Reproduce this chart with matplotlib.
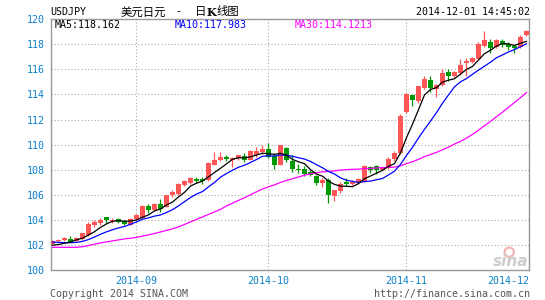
import matplotlib
matplotlib.use("Agg")
import matplotlib.pyplot as plt
import numpy as np
import pandas as pd

# daily candles USDJPY, 2014-08-12 .. 2014-12-01 (weekdays)
opens = [102.13, 102.30, 102.38, 102.49, 102.30, 102.49, 102.78, 103.63, 103.79, 104.24, 103.95, 104.08, 103.92, 103.60,
         104.05, 104.20, 105.10, 104.80, 105.27, 105.06, 105.96, 106.10, 106.80, 106.96, 107.28, 107.23, 107.17, 108.42,
         108.74, 109.05, 108.79, 108.90, 109.10, 108.79, 109.21, 109.42,
         109.68, 109.10, 108.42, 109.74, 108.68, 108.10, 108.10, 107.79, 107.48, 106.96, 107.22, 105.92, 106.29, 107.00,
         106.86, 106.96, 107.12, 108.26, 108.30, 108.00, 108.16, 108.83, 109.30,
         112.62, 113.97, 113.50, 114.50, 115.17, 114.44, 114.75, 115.79, 115.47, 115.73, 116.48, 116.59, 116.85, 117.87,
         118.19, 117.81, 118.24, 118.03, 117.87, 117.76,
         118.72]
highs = [102.40, 102.48, 102.62, 102.73, 102.62, 102.99, 103.84, 103.97, 104.19, 104.24, 104.16, 104.16, 104.00, 104.13,
         104.45, 105.20, 105.27, 105.32, 105.64, 106.03, 106.38, 106.93, 107.17, 107.44, 107.44, 107.39, 108.62, 109.40,
         109.42, 109.16, 109.05, 109.21, 109.37, 109.58, 109.79, 109.95,
         110.16, 109.30, 110.00, 109.84, 109.20, 108.47, 108.30, 107.95, 107.58, 107.38, 107.38, 106.39, 107.00, 107.38,
         107.17, 107.38, 108.36, 108.31, 108.36, 108.25, 108.99, 109.50, 112.47,
         114.08, 113.97, 114.65, 115.43, 115.43, 114.86, 116.05, 116.00, 115.84, 116.85, 116.91, 117.00, 118.13, 119.04,
         118.40, 118.40, 118.40, 118.13, 117.87, 118.72,
         119.15]
lows = [102.08, 102.25, 102.30, 102.25, 102.28, 102.44, 102.76, 103.47, 103.60, 103.73, 103.79, 103.79, 103.63, 103.58,
        104.00, 104.13, 104.58, 104.75, 104.63, 105.00, 105.85, 106.00, 106.72, 106.90, 106.96, 106.86, 107.12, 108.35,
        108.66, 108.66, 108.26, 108.74, 108.63, 108.74, 109.05, 109.26,
        108.95, 108.10, 108.37, 108.63, 107.80, 107.74, 107.48, 107.53, 106.75, 106.65, 105.35, 105.50, 106.13, 106.70,
        106.80, 106.86, 107.00, 107.74, 107.64, 107.95, 108.10, 108.73, 109.25,
        112.52, 113.10, 113.35, 114.40, 114.18, 113.82, 114.70, 115.10, 115.36, 115.57, 115.47, 116.53, 116.80, 117.81,
        117.33, 117.71, 117.76, 117.55, 117.33, 117.71,
        118.67]
closes = [102.33, 102.43, 102.54, 102.28, 102.57, 102.94, 103.71, 103.87, 103.97, 103.97, 104.02, 103.87, 103.68, 104.08,
          104.38, 105.10, 104.80, 105.27, 104.85, 105.98, 106.25, 106.86, 107.07, 107.36, 107.12, 107.10, 108.55, 108.79,
          109.05, 108.84, 108.95, 109.16, 108.74, 109.47, 109.53, 109.68,
          109.00, 108.42, 109.95, 108.74, 108.05, 108.00, 107.69, 107.58, 106.96, 107.22, 106.03, 106.39, 106.90, 106.90,
          107.06, 107.27, 108.30, 108.00, 108.00, 108.20, 108.88, 109.35, 112.31,
          114.03, 113.56, 114.65, 115.22, 114.50, 114.75, 115.74, 115.45, 115.79, 116.32, 116.64, 116.91, 118.03, 118.29,
          117.71, 118.29, 117.97, 117.81, 117.71, 118.56,
          119.04]

# moving average values at the left edge (history before the window)
ma5_head = [102.00, 102.05, 102.15, 102.25]
ma10_head = [102.25, 102.22, 102.20, 102.20, 102.22, 102.30, 102.45, 102.65, 102.87]
ma30_head = [101.83, 101.83, 101.83, 101.83, 101.83, 101.88, 101.97, 102.08, 102.18, 102.26, 102.34, 102.42, 102.50,
             102.55, 102.62, 102.72, 102.82, 102.93, 103.05, 103.18, 103.30, 103.45, 103.65, 103.85, 104.05, 104.25,
             104.45, 104.65, 104.85]

month_labels = ["2014-09", "2014-10", "2014-11", "2014-12"]
month_pos = [14, 36, 59, 79.47]
ma_texts = ["MA5:118.162", "MA10:117.983", "MA30:114.1213"]
ma_colors = ["black", "#0000ff", "#ff00ff"]

W, H = 545, 300
fig = plt.figure(figsize=(W / 100, H / 100), dpi=100)
ax = fig.add_axes([50.7 / W, 1 - 270.3 / H, 478.6 / W, (270.3 - 19) / H])

o = np.array(opens)
c = np.array(closes)
x = np.arange(len(c))
up = c >= o
cols = np.where(up, "#ff5555", "#009900")

# wicks then bodies
ax.vlines(x, lows, highs, colors=cols, linewidth=0.9, zorder=2)
body = np.maximum(np.abs(c - o), 0.07)
ax.bar(x, body, bottom=np.minimum(o, c), width=0.74, color=cols, linewidth=0, zorder=3)

# moving averages
s = pd.Series(closes)
for n, head, col in [(30, ma30_head, "#ff00ff"), (10, ma10_head, "#0000ff"), (5, ma5_head, "black")]:
    ma = s.rolling(n).mean()
    ma.iloc[:n - 1] = head
    ax.plot(x, ma, color=col, linewidth=0.9, zorder=4)

ax.set_xlim(-0.3, 79.47)
ax.set_ylim(100, 120)

mono = "DejaVu Sans Mono"
blue = "#0a80cc"
ax.set_yticks(np.arange(100, 121, 2))
ax.set_yticklabels([str(v) for v in range(100, 121, 2)], family=mono, fontsize=7.2, color=blue)
ax.set_xticks(month_pos)
ax.set_xticklabels(month_labels, family=mono, fontsize=7.2, color=blue)
ax.get_xticklabels()[-1].set_ha("right")
ax.tick_params(length=0, pad=4)
ax.tick_params(axis="x", pad=4)

ax.grid(True, color="#aaaaaa", linestyle=(0, (1, 2)), linewidth=0.8)
ax.set_axisbelow(True)
for sp in ax.spines.values():
    sp.set_color("#999999")
    sp.set_linewidth(1)

# MA legend row inside the box
for t, xp, col in zip(ma_texts, [54.7, 175, 295], ma_colors):
    fig.text(xp / W, 1 - 24.5 / H, t, family=mono, fontsize=7.2, color=col, va="center")

# header
cjk = ["Noto Sans CJK SC", "DejaVu Sans"]
fig.text(49.8 / W, 1 - 12 / H, "USDJPY", family=mono, fontsize=7.2, color="black", va="center")
fig.text(121 / W, 1 - 12 / H, "美元日元", family=cjk, fontsize=8.2, color="black", va="center")
fig.text(176 / W, 1 - 12 / H, "-", family=cjk, fontsize=8.2, color="black", va="center")
fig.text(195 / W, 1 - 12 / H, "日", family=cjk, fontsize=8.2, color="black", va="center")
fig.text(206.5 / W, 1 - 12 / H, "K", family="DejaVu Serif", fontsize=8, fontweight="bold", color="black",
         va="center")
fig.text(216.5 / W, 1 - 12 / H, "线图", family=cjk, fontsize=8.2, color="black", va="center")
fig.text(530 / W, 1 - 12 / H, "2014-12-01 14:45:02", family=mono, fontsize=7.2, color="black",
         va="center", ha="right")

# footer
fig.text(50 / W, 1 - 294 / H, "Copyright 2014 SINA.COM", family=mono, fontsize=7.2, color="#555555", va="center")
fig.text(530 / W, 1 - 294 / H, "http://finance.sina.com.cn", family=mono, fontsize=7.2, color="#555555",
         va="center", ha="right")

# watermark
ax.scatter([0.958], [0.072], transform=ax.transAxes, s=45, facecolors="none", edgecolors="#f5b5b5",
           linewidths=1.6, zorder=1)
ax.text(0.997, 0.004, "sina", transform=ax.transAxes, ha="right", va="bottom", fontsize=11,
        fontweight="bold", style="italic", color="#cccccc", zorder=1)

fig.savefig("out.png", dpi=100)
